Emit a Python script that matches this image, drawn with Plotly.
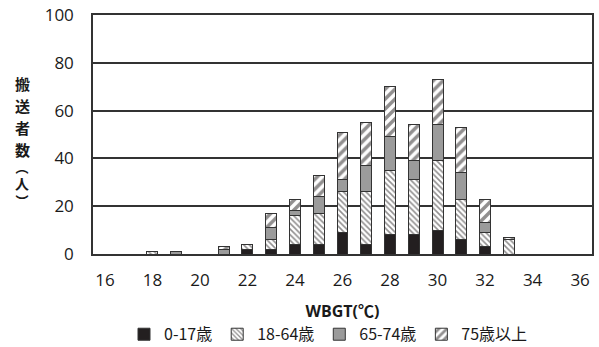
import plotly.graph_objects as go

wbgt = [16, 17, 18, 19, 20, 21, 22, 23, 24, 25, 26, 27, 28, 29, 30, 31, 32, 33, 34, 35, 36]
age_0_17 =  [0, 0, 0, 0, 0, 0, 2, 2, 4, 4, 9, 4, 8, 8, 10, 6, 3, 0, 0, 0, 0]
age_18_64 = [0, 0, 1, 0, 0, 0, 2, 4, 12, 13, 17, 22, 27, 23, 29, 17, 6, 6, 0, 0, 0]
age_65_74 = [0, 0, 0, 1, 0, 2, 0, 5, 2, 7, 5, 11, 14, 8, 15, 11, 4, 0, 0, 0, 0]
age_75p =   [0, 0, 0, 0, 0, 1, 0, 6, 5, 9, 20, 18, 21, 15, 19, 19, 10, 1, 0, 0, 0]
series_names = ["0-17歳", "18-64歳", "65-74歳", "75歳以上"]
x_ticks = [16, 18, 20, 22, 24, 26, 28, 30, 32, 34, 36]
y_ticks = [0, 20, 40, 60, 80, 100]
y_title_main = ["搬", "送", "者", "数"]
y_title_paren = "︵<br><span style='font-size:14px'>人</span><br>︶"

FONT = "Open Sans, Noto Sans CJK JP, sans-serif"
CJK = "Noto Sans CJK JP, sans-serif"
LINE = "#333333"
TXT = "#1a1a1a"

fig = go.Figure()
styles = [
    dict(color="#231f20", pattern=None),
    dict(color="white", pattern=dict(shape="\\", fgcolor="#231f20", bgcolor="white", size=4, solidity=0.4)),
    dict(color="#9b9b9b", pattern=None),
    dict(color="white", pattern=dict(shape="/", fgcolor="#231f20", bgcolor="white", size=7, solidity=0.5)),
]
for name, vals, st in zip(series_names, [age_0_17, age_18_64, age_65_74, age_75p], styles):
    marker = dict(color=st["color"], line=dict(color=LINE, width=1))
    if st["pattern"]:
        marker["pattern"] = st["pattern"]
    fig.add_trace(go.Bar(x=wbgt, y=vals, name=name, marker=marker))

XT = (22 - 93) / 499
for ch, yp in zip(y_title_main, [84, 106, 128, 150]):
    fig.add_annotation(text=ch, xref="paper", yref="y", x=XT, y=(254.5 - yp) / 2.395,
                       showarrow=False, font=dict(family=CJK, size=15, color=TXT, weight="bold"),
                       xanchor="center", yanchor="middle")
fig.add_annotation(text=y_title_paren, xref="paper", yref="y", x=XT, y=(254.5 - 184) / 2.395,
                   showarrow=False, font=dict(family=CJK, size=13, color=TXT, weight="bold"),
                   xanchor="center", yanchor="middle")

fig.update_layout(
    barmode="stack",
    bargap=0.54,
    width=599, height=347,
    margin=dict(l=93, r=7, t=15, b=92.5, autoexpand=False),
    paper_bgcolor="white", plot_bgcolor="white",
    font=dict(family=FONT, size=17, color=TXT),
    showlegend=True,
    legend=dict(orientation="h", x=(124 - 93) / 499, xanchor="left", y=(254.5 - 335) / 239.5, yanchor="middle",
                font=dict(family=CJK, size=16, color=TXT), itemwidth=30,
                traceorder="normal"),
    xaxis=dict(range=[15.5, 36.5], tickmode="array", tickvals=x_ticks, ticktext=[str(t) for t in x_ticks],
               showgrid=False, showline=True, linecolor=LINE, linewidth=1.5, mirror=True, ticks="",
               automargin=False, ticklabelstandoff=10,
               title=dict(text="<b>WBGT(℃)</b>", font=dict(family=FONT, size=16, color=TXT), standoff=16),
               tickfont=dict(family=FONT, size=17)),
    yaxis=dict(range=[0, 100], tickmode="array", tickvals=y_ticks, showgrid=True, gridcolor=LINE, gridwidth=1.5,
               showline=True, linecolor=LINE, linewidth=1.5, mirror=True, ticks="", zeroline=False,
               automargin=False,
               tickfont=dict(family=FONT, size=17), ticklabelstandoff=14),
)
fig.write_html("out.html", config={"displayModeBar": False},
               post_script="document.body.style.margin='0';")
